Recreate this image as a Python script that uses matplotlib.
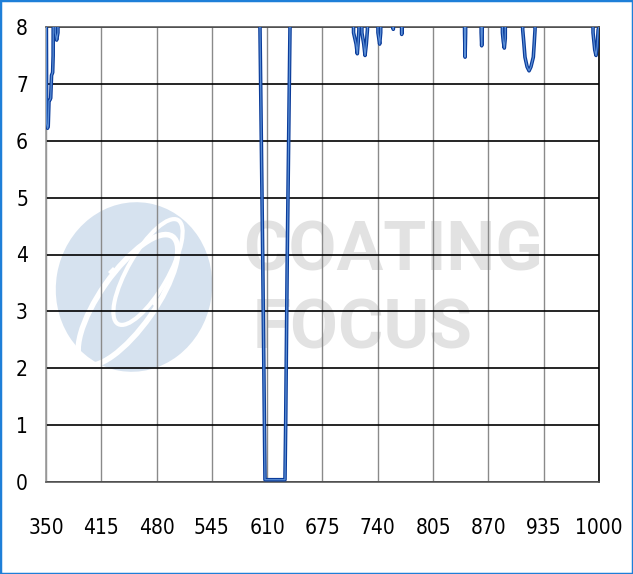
import numpy as np
import matplotlib
matplotlib.use("Agg")
import matplotlib.pyplot as plt
from matplotlib.patches import Ellipse, Rectangle, Polygon
import matplotlib.patheffects as pe

# transmission curve (optical density), values of 10 are off-scale (clipped at 8)
wavelength = [350, 350.8, 351.8, 352.6, 353.5, 354.7, 355.5, 356.5, 357.8, 358.4, 358.9,
              360.6, 360.9, 362.5, 364.0, 364.3,
              600.8, 601.5, 604.7, 607.4, 630.9, 631.7, 633.6, 636.0, 636.8, 637.3,
              710.8, 711.5, 714.5, 715.9, 717.0, 717.8, 718.3,
              720.6, 721.3, 723.5, 725.0, 726.5, 727.8, 728.3,
              739.6, 740.2, 742.2, 743.4, 744.0,
              757.5, 758.2, 759.0, 767.5, 768.1, 768.8,
              841.5, 842.0, 842.6, 843.2, 843.7,
              861.0, 861.5, 862.1, 862.7, 863.2,
              886.0, 886.5, 887.5, 888.7, 889.8, 890.5,
              909.5, 910.3, 911.5, 913.0, 915.5, 917.8, 920.0, 922.8, 923.8, 924.8, 925.5,
              992.3, 993.0, 995.0, 996.5, 997.8, 999.0, 1000]
optical_density = [10, 6.3, 6.22, 6.26, 6.7, 6.72, 6.75, 7.15, 7.2, 7.5, 10,
                   10, 7.9, 7.77, 7.9, 10,
                   10, 8.0, 4.0, 0.04, 0.04, 1.0, 4.0, 7.0, 8.0, 10,
                   10, 7.9, 7.7, 7.53, 7.75, 7.95, 10,
                   10, 7.9, 7.7, 7.5, 7.7, 7.95, 10,
                   10, 7.9, 7.7, 7.9, 10,
                   10, 7.96, 10, 10, 7.87, 10,
                   10, 7.9, 7.47, 7.9, 10,
                   10, 7.9, 7.67, 7.9, 10,
                   10, 7.9, 7.75, 7.63, 7.8, 10,
                   10, 7.95, 7.75, 7.47, 7.3, 7.23, 7.3, 7.47, 7.7, 7.95, 10,
                   10, 7.9, 7.6, 7.5, 7.65, 7.95, 8.0]

x_ticks = [350, 415, 480, 545, 610, 675, 740, 805, 870, 935, 1000]
y_ticks = [0, 1, 2, 3, 4, 5, 6, 7, 8]

W, H = 633, 574
fig = plt.figure(figsize=(W / 100, H / 100), dpi=100)
ax = fig.add_axes([46 / W, 1 - 482 / H, (599 - 46) / W, (482 - 27) / H])
ax.patch.set_visible(False)


# pixel (from top-left) -> inches for the watermark pieces
def px(x, y):
    return (x / 100, (H - y) / 100)


tr = fig.dpi_scale_trans
fig.add_artist(Ellipse(px(134, 287), 1.56, 1.70, angle=-10, transform=tr,
                       facecolor="#d6e2ef", edgecolor="none", zorder=-3))
fig.add_artist(Ellipse(px(128, 300), 0.55, 1.55, angle=-35, transform=tr,
                       facecolor="none", edgecolor="white", lw=4, zorder=-2))
fig.add_artist(Ellipse(px(148, 272), 0.40, 1.20, angle=-30, transform=tr,
                       facecolor="none", edgecolor="white", lw=3, zorder=-2))
for cx, cy in [(113, 272), (155, 302)]:
    fig.add_artist(Polygon([px(cx - 5, cy), px(cx, cy - 5), px(cx + 5, cy), px(cx, cy + 5)],
                           transform=tr, facecolor="white", edgecolor="none", zorder=-2))
fig.text(243 / W, 1 - 252 / H, "COATING", fontsize=50, fontweight="bold", family="Roboto",
         color="#e2e2e2", va="center", ha="left", zorder=-2)
fig.text(253 / W, 1 - 330 / H, "FOCUS", fontsize=50, fontweight="bold", family="Roboto",
         color="#e2e2e2", va="center", ha="left", zorder=-2)

ax.plot(wavelength, optical_density, color="#0b3c9a", lw=2.6, zorder=3,
        solid_joinstyle="round",
        path_effects=[pe.Stroke(linewidth=2.6, foreground="#0b3c9a"),
                      pe.Stroke(linewidth=0.9, foreground="#5b8fd6")])

ax.set_xlim(350, 1000)
ax.set_ylim(0, 8)
ax.set_xticks(x_ticks)
ax.set_yticks(y_ticks)
ax.set_xticklabels([str(t) for t in x_ticks])
ax.set_yticklabels([str(t) for t in y_ticks])

ax.xaxis.grid(True, color="#8a8a8a", lw=1.0)
ax.yaxis.grid(True, color="black", lw=1.2)
ax.set_axisbelow(True)

for lbl in ax.get_xticklabels() + ax.get_yticklabels():
    lbl.set_family("DejaVu Sans")
    lbl.set_stretch("condensed")
    lbl.set_fontsize(15)
ax.tick_params(axis="both", length=0)
ax.tick_params(axis="x", pad=26)
ax.tick_params(axis="y", pad=13)

ax.spines["left"].set_color("#9a9a9a")
ax.spines["bottom"].set_color("#5a5a5a")
ax.spines["top"].set_color("#5a5a5a")
ax.spines["right"].set_color("black")
for s in ax.spines.values():
    s.set_linewidth(1.2)

fig.add_artist(Rectangle((0, 0), 1, 1, transform=fig.transFigure, fill=False,
                         edgecolor="#1e7fd8", lw=2.5))

fig.savefig("out.png", dpi=100)
